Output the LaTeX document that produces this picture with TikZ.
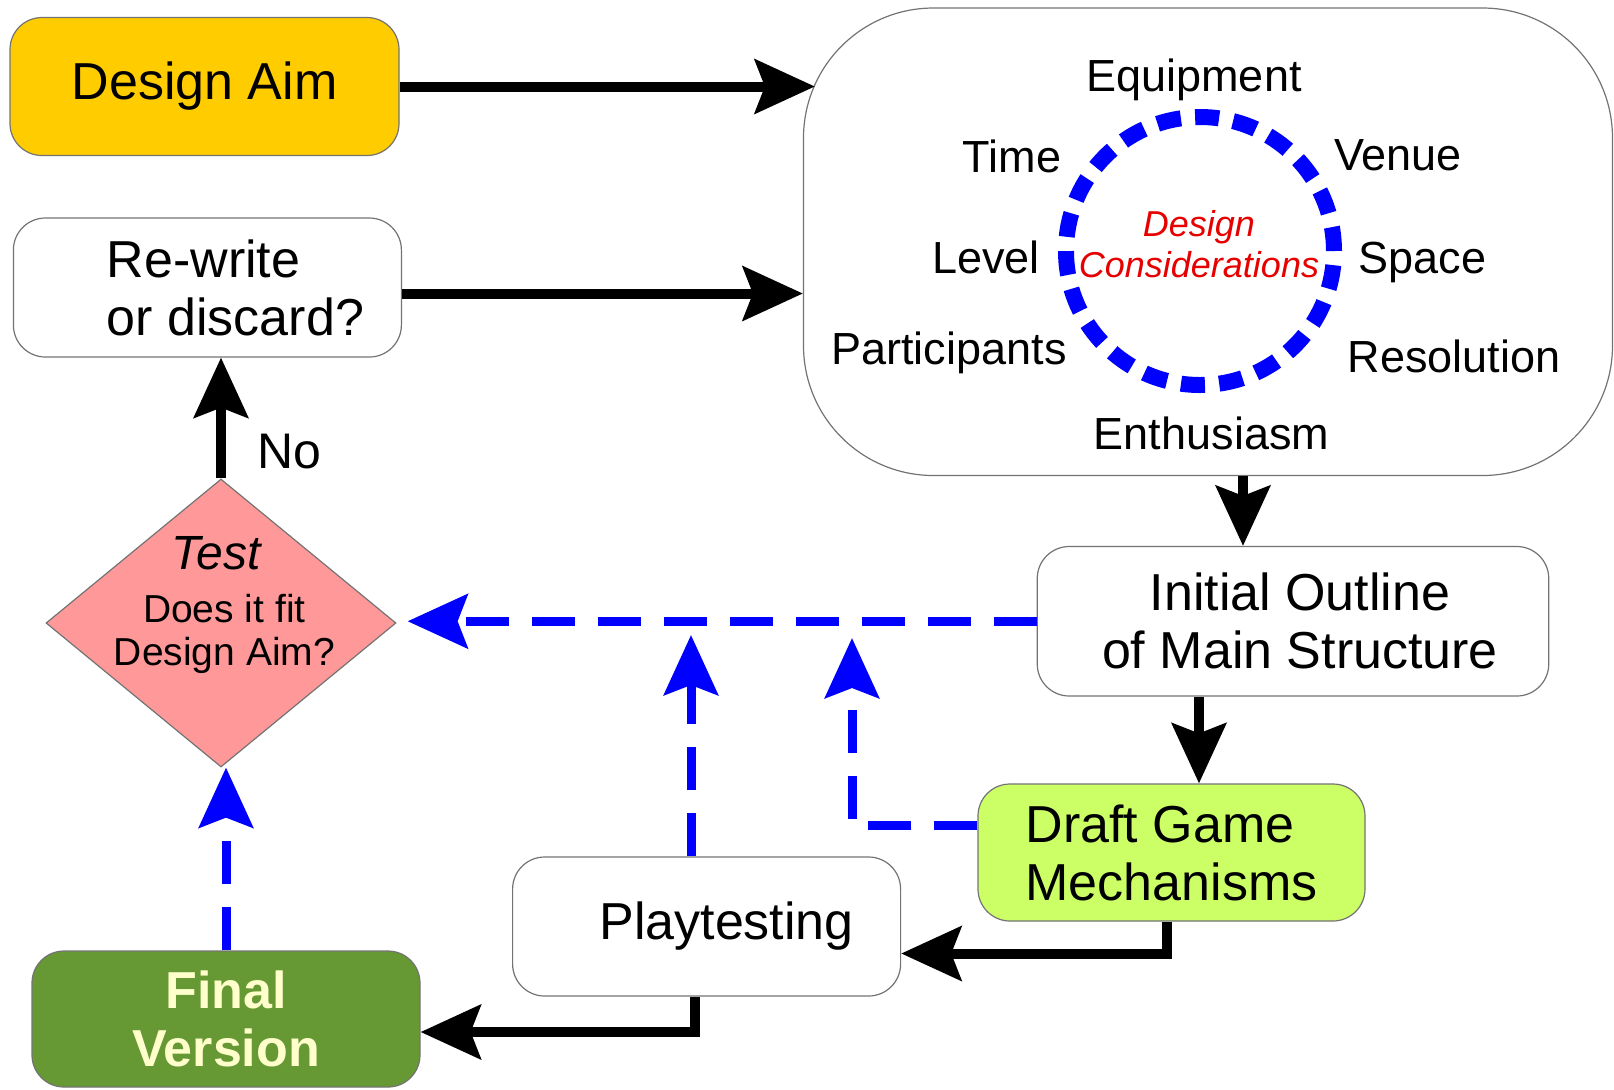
\documentclass[tikz,border=0pt]{standalone}
\usepackage{fontspec}
\setmainfont{Liberation Sans}
\usetikzlibrary{arrows.meta,shapes.geometric,calc}
\definecolor{aimyellow}{RGB}{255,204,0}
\definecolor{testpink}{RGB}{255,153,153}
\definecolor{draftgreen}{RGB}{204,255,102}
\definecolor{finalgreen}{RGB}{102,153,51}
\definecolor{finaltext}{RGB}{255,255,204}
\definecolor{considred}{RGB}{230,0,0}
\newcommand\boxfont{\fontsize{26}{29}\selectfont}
\newcommand\factorfont{\fontsize{22.5}{27}\selectfont}
\tikzset{
  box/.style={draw=black!55, line width=0.6pt, rounded corners=16pt, minimum width=194pt, minimum height=69pt, inner sep=0pt, font=\boxfont},
  factor/.style={anchor=base, inner sep=0pt, font=\factorfont},
  flow/.style={line width=5pt, -{Stealth[length=30pt,width=27pt,inset=5pt]}},
  check/.style={blue, line width=4.5pt, dash pattern=on 21.5pt off 11.5pt, -{Stealth[length=30pt,width=27pt,inset=5pt]}},
}
\begin{document}
\begin{tikzpicture}[x=0.5pt,y=-0.5pt]
\useasboundingbox (0,0) rectangle (1614,1089);
% boxes
\node[box, fill=aimyellow, minimum width=194.5pt] (aim) at (204.5,86.5) {Design Aim};
\node[box, align=left, minimum height=69.5pt] (rew) at (207.4,287.5) {\hspace*{28pt}Re-write\\\hspace*{28pt}or discard?};
\node[box, rounded corners=65pt, minimum width=404.5pt, minimum height=233.75pt] (cons) at (1208,241.75) {};
\node[box, align=center, minimum width=255.75pt, minimum height=74.75pt] (init) at (1293,621.25) {\hspace*{7pt}Initial Outline\\\hspace*{7pt}of Main Structure};
\node[box, fill=draftgreen, align=left, minimum width=193.5pt, minimum height=68.5pt] (draft) at (1171.5,852.5) {Draft Game\\Mechanisms};
\node[box, minimum height=69.5pt] (play) at (706.6,926.5) {\hspace*{20pt}Playtesting};
\node[box, fill=finalgreen, text=finaltext, align=center, minimum height=68pt, font=\boxfont\bfseries] (final) at (226,1019) {Final\\Version};
\node[diamond, draw=black!55, line width=0.6pt, fill=testpink, minimum width=175pt, minimum height=144pt, inner sep=0pt] (test) at (221,623) {};
% test text
\node[anchor=base, inner sep=0pt, font=\fontsize{24}{28}\selectfont\itshape] (testhead) at (216,569) {Test};
\node[anchor=base, inner sep=0pt, font=\fontsize{19.5}{23}\selectfont] (testq1) at (224.4,622) {Does it fit};
\node[anchor=base, inner sep=0pt, font=\fontsize{19.5}{23}\selectfont] (testq2) at (224.4,665.5) {Design Aim?};
% design considerations
\draw[blue, line width=8pt, dash pattern=on 12pt off 7.14pt] (1200,251) circle[radius=67pt];
\node[anchor=base, inner sep=0pt, text=considred, font=\fontsize{18}{21}\selectfont\itshape] (dc1) at (1199,236) {Design};
\node[anchor=base, inner sep=0pt, text=considred, font=\fontsize{18}{21}\selectfont\itshape] (dc2) at (1199,277.5) {Considerations};
\node[factor] (equip) at (1194,91) {Equipment};
\node[factor] (time) at (1012,172.5) {Time};
\node[factor] (venue) at (1398,170.5) {Venue};
\node[factor] (level) at (986,273) {Level};
\node[factor] (space) at (1422.5,273) {Space};
\node[factor] (part) at (949,364) {Participants};
\node[factor] (resol) at (1454,372) {Resolution};
\node[factor] (enth) at (1211.5,449) {Enthusiasm};
% black flow
\draw[flow, shorten >=-6pt] (aim.east) -- (aim.east -| cons.west);
\draw[flow] ($(rew.east)+(0,6)$) -- ($(rew.east -| cons.west)+(0,6)$);
\coordinate (c2) at ($(init.north)+(-50,0)$);
\draw[flow] (cons.south -| c2) -- (c2);
\coordinate (d2) at ($(draft.north)+(27.5,0)$);
\draw[flow] (init.south -| d2) -- (d2);
\draw[flow] ($(draft.south)+(-5,0)$) |- ($(play.east)+(0,27)$);
\draw[flow] ($(play.south)+(-12,0)$) |- ($(final.east)+(0,13)$);
\draw[flow] (test.north) -- (test.north |- rew.south);
\node[anchor=base, inner sep=0pt, font=\fontsize{25}{30}\selectfont] (no) at (289,468) {No};
% blue checks
\coordinate (tip1) at (852,638);
\coordinate (tip2) at (691,635);
\draw[check, shorten >=5.5pt] (init.west) -- (init.west -| test.east);
\draw[check] ($(draft.west)+(0,-27)$) -| (tip1);
\draw[check] (play.north -| tip2) -- (tip2);
\draw[check] (final.north) -- (final.north |- test.south);
\end{tikzpicture}
\end{document}
